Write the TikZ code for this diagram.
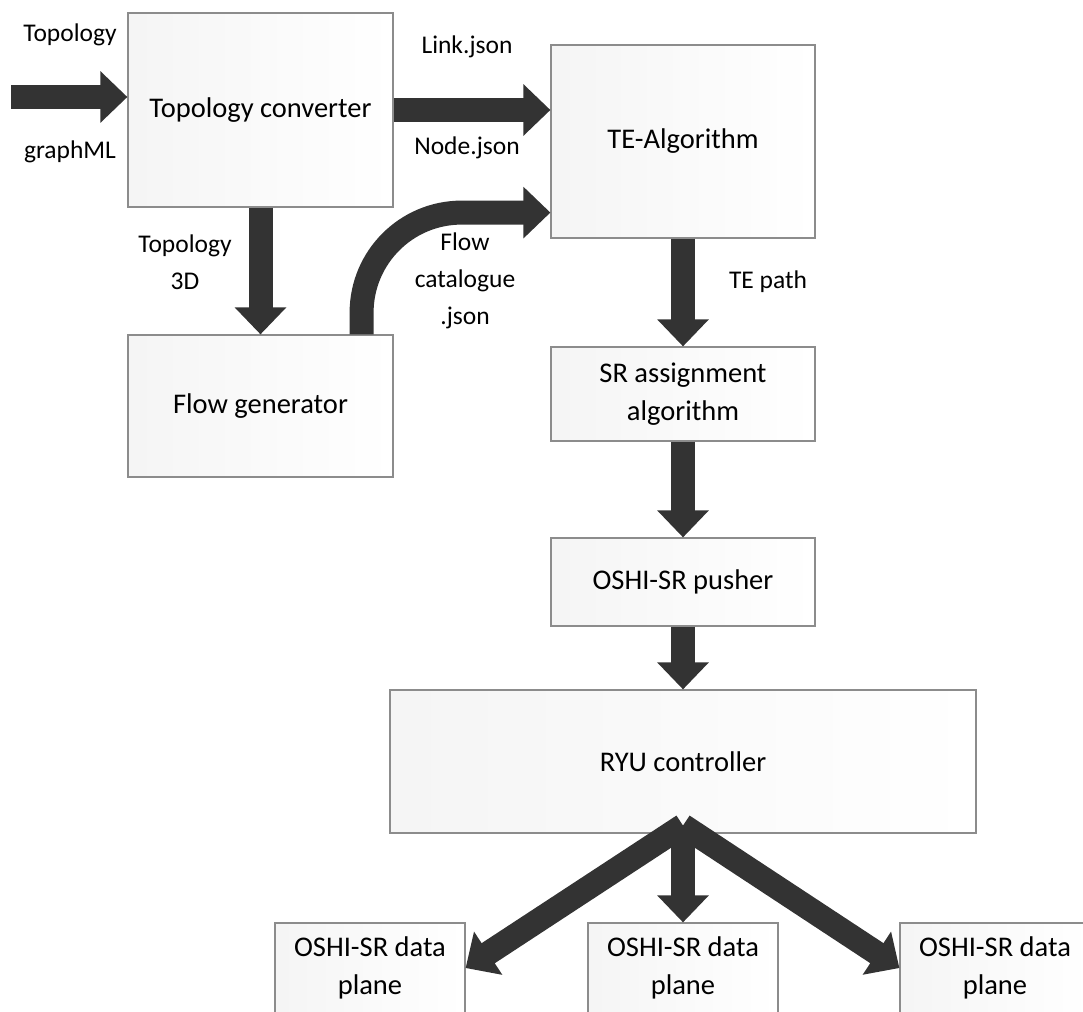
\documentclass[tikz,border=0pt]{standalone}
\usepackage{fontspec}
\setmainfont{Carlito}
\usetikzlibrary{arrows.meta}
\tikzset{
  block/.style={draw=black!45, line width=1.2pt, left color=black!4, right color=white,
    inner sep=0pt, align=center, font=\fontsize{28.5}{38}\selectfont},
  fatarrow/.style={draw=black!80, line width=24pt, -{Triangle[length=27pt,width=50pt]}},
  tag/.style={align=center, font=\fontsize{25.5}{37}\selectfont},
}
\newcommand{\blocknode}[6]{% name, cx, cy, w, h, text
  \node[block, minimum width=#4pt, minimum height=#5pt] (#1) at (#2, #3) {#6};
}

\begin{document}
\begin{tikzpicture}[x=1pt, y=-1pt]
\useasboundingbox (0,0) rectangle (1083,1011);
\clip (0,0) rectangle (1083,1011);

\blocknode{topconv}{260.5}{110}{265}{194}{Topology converter}
\blocknode{te}{683}{141.5}{264}{193}{TE-Algorithm}
\blocknode{flowgen}{260.5}{406}{265}{142}{Flow generator}
\blocknode{sr}{683}{394}{264}{94}{SR assignment\\algorithm}
\blocknode{pusher}{683}{582}{264}{88}{OSHI-SR pusher}
\blocknode{ryu}{683}{761.5}{586}{143}{RYU controller}
\blocknode{dpleft}{370}{968}{190}{90}{OSHI-SR data\\plane}
\blocknode{dpmid}{683}{968}{190}{90}{OSHI-SR data\\plane}
\blocknode{dpright}{995}{968}{190}{90}{OSHI-SR data\\plane}

% inputs and outputs of the converter
\coordinate (src) at (11, 97);
\draw[fatarrow] (src) -- (src -| topconv.west);
\draw[fatarrow] (topconv.east) -- (topconv.east -| te.west);
\draw[fatarrow] (topconv.south) -- (flowgen.north);
\draw[fatarrow, rounded corners=100pt] ([xshift=-32pt]flowgen.north east) |- ([yshift=26pt]te.south west);

% the chain down to the controller
\draw[fatarrow] (te.south) -- (sr.north);
\draw[fatarrow] (sr.south) -- (pusher.north);
\draw[fatarrow] (pusher.south) -- (ryu.north);

% fan out to the data planes
\coordinate (fan) at ([yshift=8pt]ryu.south);
\draw[fatarrow] (fan) -- (dpleft.east);
\draw[fatarrow] (ryu.south) -- (dpmid.north);
\draw[fatarrow] (fan) -- (dpright.west);

\node[tag] (intopo) at (70, 35) {Topology};
\node[tag] (ingraph) at (70, 152) {graphML};
\node[tag] (linkjson) at (467, 47) {Link.json};
\node[tag] (nodejson) at (467, 148) {Node.json};
\node[tag] (topo3d) at (185, 262) {Topology\\3D};
\node[tag] (flowcat) at (465, 281) {Flow\\catalogue\\.json};
\node[tag] (tepath) at (768, 282) {TE path};
\end{tikzpicture}
\end{document}
